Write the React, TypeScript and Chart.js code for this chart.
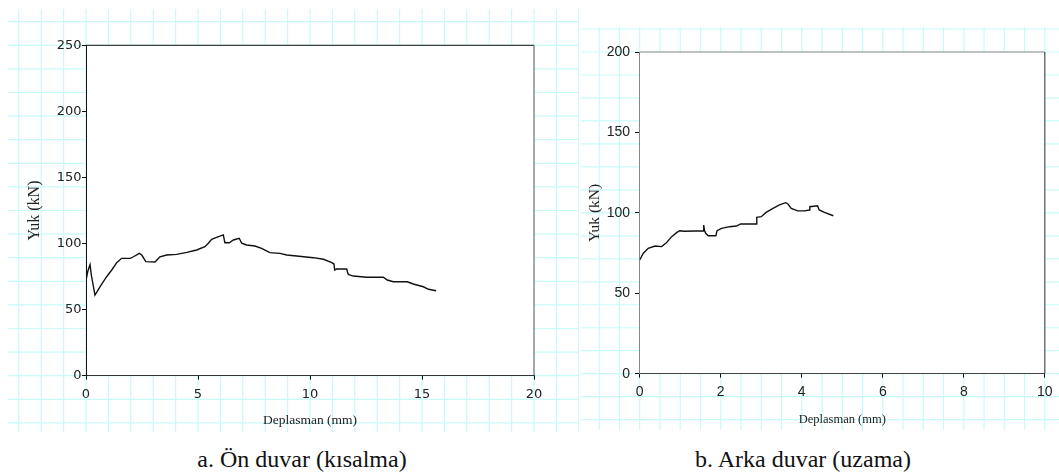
import React, { useEffect, useRef } from "react";
import { Chart, registerables } from "chart.js";

Chart.register(...registerables);

// ---- Data: (a) Ön duvar (kısalma)
const leftDisp = [0, 0.08, 0.18, 0.24, 0.40, 0.63, 0.92, 1.15, 1.37, 1.59, 1.98, 2.12, 2.38, 2.49, 2.67, 3.08, 3.30, 3.60, 4.05, 4.50, 4.94, 5.31, 5.46, 5.61, 5.83, 6.13, 6.20, 6.40, 6.58, 6.84, 6.95, 7.17, 7.54, 7.84, 8.21, 8.66, 8.96, 9.40, 10.15, 10.60, 10.97, 11.07, 11.10, 11.19, 11.64, 11.68, 11.71, 11.93, 12.53, 13.27, 13.45, 13.72, 14.34, 14.61, 15.06, 15.29, 15.63];
const leftLoad = [72, 79, 84, 76, 61, 67.4, 74.9, 80, 85.5, 88.8, 88.8, 90, 92.6, 91.3, 86.3, 86, 90, 91.3, 91.8, 93.3, 95.1, 97.6, 100.2, 103.2, 104.7, 106.5, 100.6, 100.6, 102.7, 104, 100.2, 98.9, 98.1, 96.4, 93.1, 92.6, 91.3, 90.6, 89.3, 88.1, 85.5, 84.5, 80, 80.7, 80.7, 78, 76.7, 75.4, 74.5, 74.5, 72.4, 71.1, 71.1, 69.4, 67.3, 65.4, 64.3];
const leftXMax = 20;
const leftXStep = 5;
const leftYMax = 250;
const leftYStep = 50;

// ---- Data: (b) Arka duvar (uzama)
const rightDisp = [0, 0.09, 0.21, 0.38, 0.54, 0.66, 0.79, 0.91, 0.99, 1.10, 1.58, 1.58, 1.60, 1.63, 1.69, 1.88, 1.91, 2.02, 2.22, 2.39, 2.49, 2.88, 2.89, 3.00, 3.12, 3.29, 3.45, 3.60, 3.66, 3.74, 3.90, 4.07, 4.19, 4.20, 4.39, 4.43, 4.56, 4.78];
const rightLoad = [70.7, 74.9, 78, 79.4, 79, 81.4, 85.2, 87.7, 88.9, 88.6, 88.9, 92.4, 89, 87.3, 85.8, 85.8, 88.9, 90.4, 91.4, 91.8, 93.1, 93.1, 97.2, 97.6, 100.3, 102.8, 104.9, 106.3, 105.5, 102.8, 101.2, 101.2, 101.8, 103.8, 104.4, 101.8, 100.3, 98.2];
const rightXMax = 10;
const rightXStep = 2;
const rightYMax = 200;
const rightYStep = 50;

const xTitle = "Deplasman (mm)";
const yTitle = "Yuk (kN)";
const captionA = "a. Ön duvar (kısalma)";
const captionB = "b. Arka duvar (uzama)";

type PanelCfg = {
  disp: number[];
  load: number[];
  xMax: number;
  xStep: number;
  yMax: number;
  yStep: number;
  width: number;
  height: number;
  yAxisWidth: number;
  xAxisHeight: number;
  padTop: number;
  padRight: number;
  gridXStep: number;
  tickFont: string;
  tickSize: number;
  xTickPad: number;
  yTickPad: number;
  yTickLen: number;
  xTitleSize: number;
  xTitlePadBottom: number;
  yTitleSize: number;
  yTitlePadTop: number;
  leftAxisColor: string;
  bottomAxisColor: string;
  topColor: string;
  rightColor: string;
};

const serif = "'Liberation Serif', 'Times New Roman', serif";

function makePlugins(cfg: PanelCfg) {
  return [
    {
      id: "bgGrid",
      beforeDraw(chart: any) {
        const { ctx, chartArea: a, width, height } = chart;
        const xs = chart.scales.x;
        const ys = chart.scales.y;
        ctx.save();
        ctx.fillStyle = "#ffffff";
        ctx.fillRect(0, 0, width, height);
        ctx.strokeStyle = "rgb(200,250,250)";
        ctx.lineWidth = 1.2;
        const gx = cfg.gridXStep;
        for (let k = -40; k <= 200; k++) {
          const p = xs.getPixelForValue(k * gx);
          if (p < 0 || p > width) continue;
          ctx.beginPath();
          ctx.moveTo(p, 0);
          ctx.lineTo(p, height);
          ctx.stroke();
        }
        const gy = cfg.yMax / 14;
        for (let k = -20; k <= 40; k++) {
          const p = ys.getPixelForValue(cfg.yMax - k * gy);
          if (p < 0 || p > height) continue;
          ctx.beginPath();
          ctx.moveTo(0, p);
          ctx.lineTo(width, p);
          ctx.stroke();
        }
        ctx.fillStyle = "#ffffff";
        ctx.fillRect(a.left, a.top, a.right - a.left, a.bottom - a.top);
        ctx.restore();
      },
      afterDraw(chart: any) {
        const { ctx, chartArea: a } = chart;
        ctx.save();
        ctx.lineWidth = 1;
        ctx.strokeStyle = cfg.topColor;
        ctx.beginPath();
        ctx.moveTo(a.left, a.top);
        ctx.lineTo(a.right, a.top);
        ctx.stroke();
        ctx.strokeStyle = cfg.rightColor;
        ctx.beginPath();
        ctx.moveTo(a.right, a.top);
        ctx.lineTo(a.right, a.bottom);
        ctx.stroke();
        ctx.restore();
      },
    },
  ];
}

function Panel({ cfg, style }: { cfg: PanelCfg; style: React.CSSProperties }) {
  const ref = useRef<HTMLCanvasElement | null>(null);
  useEffect(() => {
    if (!ref.current) return;
    const points = cfg.disp.map((x, i) => ({ x, y: cfg.load[i] }));
    const chart = new Chart(ref.current, {
      type: "line",
      data: {
        datasets: [
          {
            data: points,
            borderColor: "#111111",
            borderWidth: 1.4,
            pointRadius: 0,
            tension: 0,
            fill: false,
          },
        ],
      },
      options: {
        responsive: false,
        animation: false,
        devicePixelRatio: 1,
        layout: { padding: { left: 0, top: cfg.padTop, right: cfg.padRight, bottom: 0 } },
        plugins: { legend: { display: false }, tooltip: { enabled: false }, title: { display: false } },
        scales: {
          x: {
            type: "linear",
            min: 0,
            max: cfg.xMax,
            afterFit: (s: any) => {
              s.height = cfg.xAxisHeight;
            },
            ticks: {
              stepSize: cfg.xStep,
              color: "#222",
              padding: cfg.xTickPad,
              font: { family: cfg.tickFont, size: cfg.tickSize },
              maxRotation: 0,
            },
            grid: { drawOnChartArea: false, drawTicks: true, tickLength: 4, tickColor: "#111", color: "#111" },
            border: { display: true, color: cfg.bottomAxisColor, width: 1 },
            title: {
              display: true,
              text: xTitle,
              color: "#222",
              font: { family: serif, size: cfg.xTitleSize },
              padding: { top: 0, bottom: cfg.xTitlePadBottom },
            },
          },
          y: {
            type: "linear",
            min: 0,
            max: cfg.yMax,
            afterFit: (s: any) => {
              s.width = cfg.yAxisWidth;
            },
            ticks: {
              stepSize: cfg.yStep,
              color: "#222",
              padding: cfg.yTickPad,
              font: { family: cfg.tickFont, size: cfg.tickSize },
            },
            grid: { drawOnChartArea: false, drawTicks: true, tickLength: cfg.yTickLen, tickColor: "#111", color: "#111" },
            border: { display: true, color: cfg.leftAxisColor, width: 1 },
            title: {
              display: true,
              text: yTitle,
              color: "#222",
              font: { family: serif, size: cfg.yTitleSize },
              padding: { top: cfg.yTitlePadTop, bottom: 0 },
            },
          },
        },
      },
      plugins: makePlugins(cfg) as any,
    });
    return () => chart.destroy();
  }, [cfg]);
  return (
    <canvas
      ref={ref}
      width={cfg.width}
      height={cfg.height}
      style={{ position: "absolute", width: cfg.width, height: cfg.height, ...style }}
    />
  );
}

const leftCfg: PanelCfg = {
  disp: leftDisp,
  load: leftLoad,
  xMax: leftXMax,
  xStep: leftXStep,
  yMax: leftYMax,
  yStep: leftYStep,
  width: 571,
  height: 423,
  yAxisWidth: 78,
  xAxisHeight: 56.3,
  padTop: 36.3,
  padRight: 45,
  gridXStep: 1,
  tickFont: "'DejaVu Sans', sans-serif",
  tickSize: 13,
  xTickPad: 7,
  yTickPad: 0.5,
  yTickLen: 4,
  xTitleSize: 13.5,
  xTitlePadBottom: 3,
  yTitleSize: 16,
  yTitlePadTop: 16.8,
  leftAxisColor: "#111",
  bottomAxisColor: "#333",
  topColor: "#111",
  rightColor: "#555",
};

const rightCfg: PanelCfg = {
  disp: rightDisp,
  load: rightLoad,
  xMax: rightXMax,
  xStep: rightXStep,
  yMax: rightYMax,
  yStep: rightYStep,
  width: 478,
  height: 403,
  yAxisWidth: 58.7,
  xAxisHeight: 56.3,
  padTop: 25,
  padRight: 12.7,
  gridXStep: 0.5,
  tickFont: "'Liberation Sans Narrow', 'Liberation Sans', Arial, sans-serif",
  tickSize: 14,
  xTickPad: 6.4,
  yTickPad: 5,
  yTickLen: 4.7,
  xTitleSize: 12.5,
  xTitlePadBottom: 2.5,
  yTitleSize: 15.5,
  yTitlePadTop: 4.7,
  leftAxisColor: "#888",
  bottomAxisColor: "#444",
  topColor: "#888",
  rightColor: "#333",
};

export default function App() {
  const captionStyle: React.CSSProperties = {
    position: "absolute",
    top: 447,
    width: 300,
    textAlign: "center",
    fontFamily: serif,
    fontSize: 24,
    lineHeight: "24px",
    color: "#111",
    whiteSpace: "nowrap",
  };
  return (
    <div
      style={{
        position: "absolute",
        left: 0,
        top: 0,
        width: 1059,
        height: 474,
        background: "#fff",
        overflow: "hidden",
      }}
    >
      <Panel cfg={leftCfg} style={{ left: 8, top: 9 }} />
      <Panel cfg={rightCfg} style={{ left: 581, top: 27 }} />
      <div style={{ ...captionStyle, left: 302 - 150 }}>{captionA}</div>
      <div style={{ ...captionStyle, left: 803 - 150 }}>{captionB}</div>
    </div>
  );
}
